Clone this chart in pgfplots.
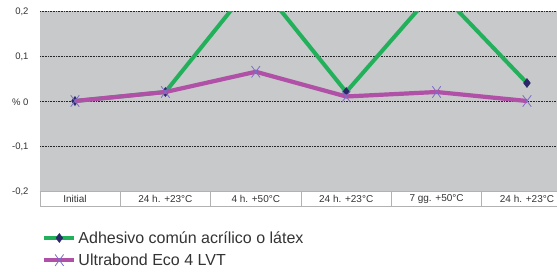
\documentclass[border=0pt]{standalone}
\usepackage{pgfplots}
\pgfplotsset{compat=1.18}
\usepackage{fontspec}
\setmainfont{Liberation Sans}
\definecolor{bg}{HTML}{C8C9CB}
\definecolor{gr}{HTML}{22B05A}
\definecolor{pu}{HTML}{B050A6}
\definecolor{nv}{HTML}{2A2868}
\definecolor{lx}{HTML}{7B6DC8}
\definecolor{tx}{HTML}{333333}
\begin{document}
\begin{tikzpicture}
\begin{axis}[
  scale only axis, width=517pt, height=180pt,
  xmin=-0.387, xmax=5.332, ymin=-0.2, ymax=0.2,
  clip mode=individual,
  axis line style={draw=none},
  axis background/.style={fill=bg},
  major tick length=0pt,
  ytick={-0.2,-0.1,0,0.1,0.2},
  yticklabels={{-0,2},{-0,1},{\% 0},{0,1},{0,2}},
  yticklabel style={font=\fontsize{9.5}{11}\selectfont, text=tx, xshift=-8pt, yshift=-1pt},
  ymajorgrids,
  grid style={black!85, dash pattern=on 0.8pt off 0.8pt, line width=0.7pt},
  xtick={0,1,2,3,4,5},
  xticklabels={Initial,{24 h. +23°C},{4 h. +50°C},{24 h. +23°C},{7 gg. +50°C},{24 h. +23°C}},
  xticklabel style={font=\fontsize{10}{12}\selectfont, text=tx, anchor=center, yshift=-8pt},
  legend style={at={(axis description cs:0.004,-0.212)}, anchor=north west, draw=none, fill=none,
    font=\fontsize{16}{19}\selectfont, text=tx, row sep=5pt, inner sep=0pt},
  legend cell align=left,
  legend image code/.code={\draw[mark repeat=2,mark phase=2] plot coordinates {(0pt,0pt) (15pt,0pt) (30pt,0pt)};},
]
\draw[gray!60, line width=0.6pt] (axis cs:-0.387,-0.2) rectangle (axis cs:5.7,-0.23333);
\draw[gray!60, line width=0.6pt] (axis cs:0.5,-0.2) -- (axis cs:0.5,-0.23333);
\draw[gray!60, line width=0.6pt] (axis cs:1.5,-0.2) -- (axis cs:1.5,-0.23333);
\draw[gray!60, line width=0.6pt] (axis cs:2.5,-0.2) -- (axis cs:2.5,-0.23333);
\draw[gray!60, line width=0.6pt] (axis cs:3.5,-0.2) -- (axis cs:3.5,-0.23333);
\draw[gray!60, line width=0.6pt] (axis cs:4.5,-0.2) -- (axis cs:4.5,-0.23333);
\addplot[gr, line width=4pt, mark=diamond*, mark size=4.5pt, mark options={nv, fill=nv, line width=0.5pt}]
  coordinates {(0,0) (1,0.02) (2,0.27) (3,0.02) (4,0.25) (5,0.04)};
\addlegendentry{Adhesivo común acrílico o látex}
\addplot[pu, line width=4.2pt, mark=x, mark size=6pt, mark options={lx, line width=0.8pt, yscale=1.35}]
  coordinates {(0,0) (1,0.02) (2,0.065) (3,0.01) (4,0.02) (5,0)};
\addlegendentry{Ultrabond Eco 4 LVT}
\end{axis}
\pgfresetboundingbox
\path (-40pt,-80pt) rectangle (517pt,191pt);
\end{tikzpicture}
\end{document}
